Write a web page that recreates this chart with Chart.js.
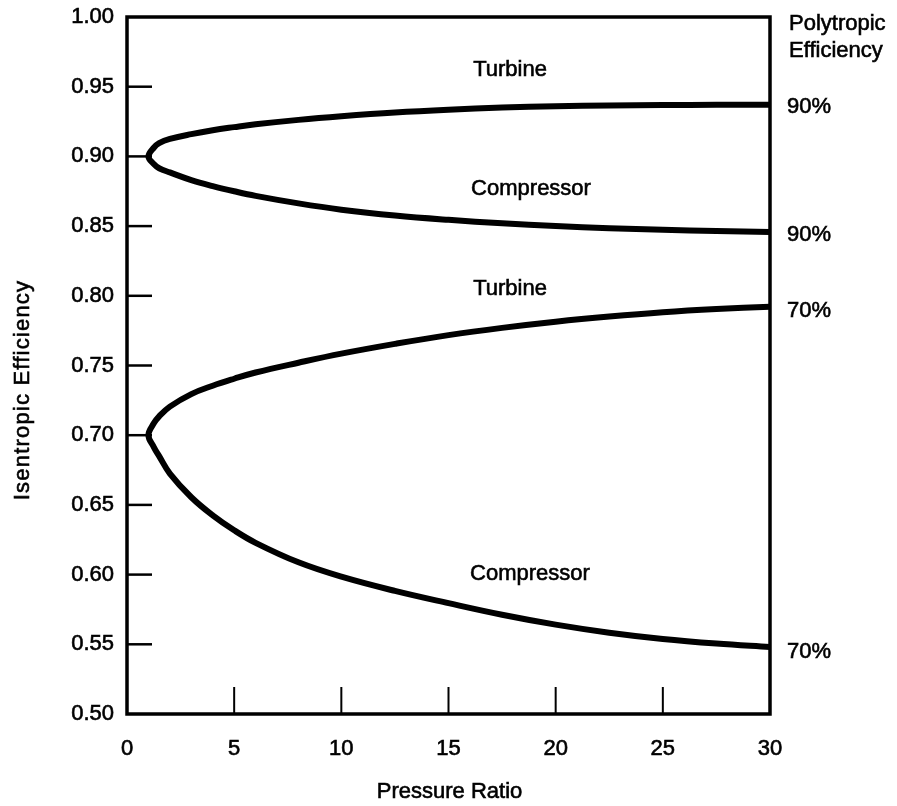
<!DOCTYPE html>
<html>
<head>
<meta charset="utf-8">
<script src="https://cdn.jsdelivr.net/npm/chart.js@4.4.0/dist/chart.umd.min.js"></script>
<style>
html, body { margin: 0; padding: 0; background: #fff; }
#wrap { width: 897px; height: 806px; }
</style>
</head>
<body>
<div id="wrap"><canvas id="chart"></canvas></div>
<script>
// values
const ratio = [1, 1.25, 1.5, 2, 3, 4, 5, 6, 8, 10, 12.5, 15, 17.5, 20, 22.5, 25, 27.5, 30];

const turbine90Eff = [0.900, 0.9062, 0.9095, 0.9125, 0.916, 0.9188, 0.921, 0.923, 0.9262, 0.9288, 0.9315, 0.9335, 0.935, 0.936, 0.9365, 0.9368, 0.937, 0.937];
const compressor90Eff = [0.900, 0.8945, 0.8915, 0.8885, 0.883, 0.8787, 0.875, 0.8717, 0.8663, 0.8618, 0.8576, 0.8545, 0.852, 0.850, 0.8485, 0.8473, 0.8464, 0.8458];
const turbine70Eff = [0.700, 0.7085, 0.7135, 0.7205, 0.7295, 0.7355, 0.7405, 0.745, 0.752, 0.7585, 0.7655, 0.7718, 0.777, 0.7814, 0.7851, 0.7882, 0.7905, 0.7922];
const compressor70Eff = [0.700, 0.6915, 0.685, 0.6725, 0.6555, 0.6425, 0.6318, 0.6228, 0.6088, 0.5985, 0.5883, 0.5795, 0.5712, 0.5641, 0.5583, 0.5538, 0.5505, 0.548];

const pressureTicks = [0, 5, 10, 15, 20, 25, 30];
const efficiencyTicks = [0.50, 0.55, 0.60, 0.65, 0.70, 0.75, 0.80, 0.85, 0.90, 0.95, 1.00];

const curveLabels = ['Turbine', 'Compressor', 'Turbine', 'Compressor'];
const curveLabelRatio = [17.87, 18.85, 17.87, 18.8];
const curveLabelEff = [0.962, 0.8766, 0.8049, 0.6004];

const polytropicLabels = ['90%', '90%', '70%', '70%'];
const polytropicLabelEff = [0.9355, 0.8435, 0.789, 0.5446];

const FONT = '"Liberation Sans", Arial, Helvetica, sans-serif';
Chart.defaults.font.family = FONT;
Chart.defaults.color = '#000';

// compressor branch runs back to r=1, then the turbine branch goes out again,
// so the spline gives the round nose at the polytropic value
function nosePath(compEff, turbEff) {
    const pts = [];
    for (let i = ratio.length - 1; i > 0; i--) {
        pts.push({x: ratio[i], y: compEff[i]});
    }
    ratio.forEach(function (r, i) {
        pts.push({x: r, y: turbEff[i]});
    });
    return pts;
}

function heavyText(ctx, t, x, y) {
    ctx.fillText(t, x, y);
    ctx.strokeText(t, x, y);
}

const frame = {
    id: 'frame',
    afterDraw(chart) {
        const ctx = chart.ctx;
        const area = chart.chartArea;
        const xs = chart.scales.x;
        const ys = chart.scales.y;
        ctx.save();
        ctx.strokeStyle = '#000';

        // inward ticks
        ctx.lineWidth = 2.5;
        efficiencyTicks.slice(1, -1).forEach(function (v) {
            const py = ys.getPixelForValue(v);
            ctx.beginPath();
            ctx.moveTo(area.left, py);
            ctx.lineTo(area.left + 25, py);
            ctx.stroke();
        });
        ctx.lineWidth = 2;
        pressureTicks.slice(1, -1).forEach(function (v) {
            const px = xs.getPixelForValue(v);
            ctx.beginPath();
            ctx.moveTo(px, area.bottom);
            ctx.lineTo(px, area.bottom - 27);
            ctx.stroke();
        });

        // box
        ctx.lineWidth = 3.5;
        ctx.strokeRect(area.left, area.top, area.right - area.left, area.bottom - area.top);

        ctx.fillStyle = '#000';
        ctx.lineWidth = 0.6;
        ctx.font = '22px ' + FONT;
        ctx.textBaseline = 'middle';

        // curve names
        ctx.textAlign = 'center';
        curveLabels.forEach(function (t, i) {
            heavyText(ctx, t, xs.getPixelForValue(curveLabelRatio[i]), ys.getPixelForValue(curveLabelEff[i]));
        });

        // right hand labels
        ctx.textAlign = 'left';
        heavyText(ctx, 'Polytropic', area.right + 19, 24);
        heavyText(ctx, 'Efficiency', area.right + 19, 51);
        polytropicLabels.forEach(function (t, i) {
            heavyText(ctx, t, area.right + 17, ys.getPixelForValue(polytropicLabelEff[i]));
        });

        // axis titles
        ctx.textAlign = 'center';
        heavyText(ctx, 'Pressure Ratio', (area.left + area.right) / 2 + 1, 792);
        ctx.translate(23, 390);
        ctx.rotate(-Math.PI / 2);
        ctx.letterSpacing = '1.2px';
        heavyText(ctx, 'Isentropic Efficiency', 0, 0);
        ctx.restore();
    }
};

const lineStyle = {
    showLine: true,
    borderColor: '#000',
    borderWidth: 6,
    pointRadius: 0,
    pointHoverRadius: 0,
    tension: 0.4,
    fill: false
};

new Chart(document.getElementById('chart').getContext('2d'), {
    type: 'scatter',
    data: {
        datasets: [
            Object.assign({label: '90%', data: nosePath(compressor90Eff, turbine90Eff)}, lineStyle),
            Object.assign({label: '70%', data: nosePath(compressor70Eff, turbine70Eff)}, lineStyle)
        ]
    },
    options: {
        responsive: true,
        maintainAspectRatio: false,
        animation: false,
        events: [],
        layout: {padding: {left: 0, top: 17, right: 127, bottom: 0}},
        plugins: {
            legend: {display: false},
            tooltip: {enabled: false}
        },
        scales: {
            x: {
                type: 'linear',
                min: 0,
                max: 30,
                afterBuildTicks: function (scale) {
                    scale.ticks = pressureTicks.map(v => ({value: v}));
                },
                afterFit: function (scale) {
                    scale.height = 92;
                    scale.paddingLeft = 0;
                    scale.paddingRight = 0;
                },
                grid: {display: false, drawTicks: false},
                border: {display: false},
                ticks: {
                    padding: 22,
                    maxRotation: 0,
                    font: {size: 22},
                    textStrokeColor: '#000',
                    textStrokeWidth: 0.6,
                    callback: v => String(v)
                }
            },
            y: {
                type: 'linear',
                min: 0.5,
                max: 1.0,
                afterBuildTicks: function (scale) {
                    scale.ticks = efficiencyTicks.map(v => ({value: v}));
                },
                afterFit: function (scale) {
                    scale.width = 127;
                    scale.paddingTop = 0;
                    scale.paddingBottom = 0;
                },
                grid: {display: false, drawTicks: false},
                border: {display: false},
                ticks: {
                    padding: 13,
                    font: {size: 22},
                    textStrokeColor: '#000',
                    textStrokeWidth: 0.6,
                    callback: v => v.toFixed(2)
                }
            }
        }
    },
    plugins: [frame]
});
</script>
</body>
</html>
